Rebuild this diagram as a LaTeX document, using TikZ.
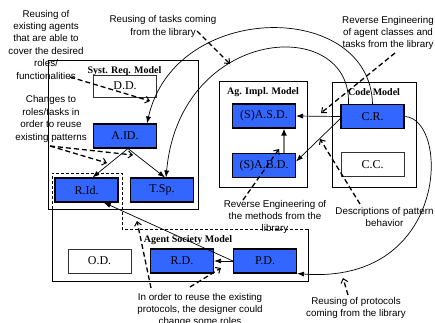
\documentclass[tikz,border=0pt]{standalone}
\usepackage{fontspec}
\setmainfont{Liberation Serif}
\newfontfamily\annfont{Liberation Sans}
\usetikzlibrary{arrows.meta,calc}
\definecolor{boxblue}{RGB}{51,102,255}
\begin{document}
\begin{tikzpicture}[x=1pt,y=-1pt,
  blk/.style={draw=black,line width=1.1pt,fill=boxblue,minimum width=63pt,minimum height=24pt,inner sep=0pt,font=\fontsize{12}{14}\selectfont},
  wbox/.style={draw=black!80,line width=0.9pt,fill=white,minimum width=63pt,minimum height=24pt,inner sep=0pt,font=\fontsize{12}{14}\selectfont},
  cont/.style={draw=black,line width=0.8pt},
  ttl/.style={font=\fontsize{10}{12}\selectfont\bfseries,inner sep=0pt},
  ann/.style={font=\annfont\fontsize{9.8}{12.4}\selectfont,align=center,inner sep=0pt},
  conn/.style={line width=0.7pt,-{Latex[length=7pt,width=5pt]}},
  note/.style={line width=1.3pt,dash pattern=on 5pt off 3pt,-{Straight Barb[length=4pt,width=7pt,line width=1pt]}},
]
\useasboundingbox (0,0) rectangle (435,322);

% containers
\draw[cont] (48,60) rectangle (198,209);
\draw[cont] (219,81) rectangle (307,187);
\draw[cont] (332,82) rectangle (416,187);
\draw[cont] (52,209) -- (52,281) -- (308,281) -- (308,229);
\draw[line width=0.8pt,dash pattern=on 3pt off 2pt] (308,229) -- (122,229) -- (122,173) -- (52,173) -- (52,209);

% titles
\node[ttl] (tSR) at (124.5,71) {Syst. Req. Model};
\node[ttl] (tAI) at (263,92) {Ag. Impl. Model};
\node[ttl] (tCM) at (374,92) {Code Model};
\node[ttl] (tAS) at (188,240) {Agent Society Model};

% boxes
\node[wbox,minimum height=22pt] (DD) at (125,86) {D.D.};
\node[blk] (AID) at (125,136) {A.ID.};
\node[blk] (RId) at (86.5,190) {R.Id.};
\node[blk] (TSp) at (162,190) {T.Sp.};
\node[blk] (SASD) at (264,116) {(S)A.S.D.};
\node[blk] (SABD) at (264,165.5) {(S)A.B.D.};
\node[blk] (CR) at (372.5,116.5) {C.R.};
\node[wbox] (CC) at (372.5,164.5) {C.C.};
\node[wbox] (OD) at (99.5,261) {O.D.};
\node[blk] (RD) at (182,261) {R.D.};
\node[blk] (PD) at (265,261) {P.D.};

% connectors
\draw[conn] (CR.west) -- (SASD.east);
\draw[conn] ($(CR.west)+(0,2)$) -- ($(SABD.east)+(0,-4)$);
\draw[draw=gray,line width=2pt,-{Latex[length=7pt,width=6pt,color=black]}] ($(SABD.north)+(20,0)$) -- ($(SASD.south)+(20,0)$);
\draw[conn] ($(AID.south)+(3,0)$) -- ($(RId.north)+(6,0)$);
\draw[conn] ($(AID.south)+(3,0)$) -- ($(TSp.north)+(3,0)$);
\draw[conn] (PD.west) -- (RD.east);
\draw[conn] (PD.west) -- (RId.-36);
\draw[conn] (CR.north) .. controls (370,0) and (175,0) .. ($(AID.north)+(22,0)$);
\draw[conn] ($(CR.north west)+(8,0)$) .. controls (352,15) and (180,25) .. ($(TSp.north)+(4,0)$);
\draw[conn] (CR.east) .. controls (450,118) and (450,285) .. (PD.south east);

% annotations
\node[ann] (n1) at (46,44.5) {Reusing of\\existing agents\\that are able to\\cover the desired\\roles/\\functionalities};
\node[ann] (n2) at (163,26.5) {Reusing of tasks coming\\from the library};
\node[ann] (n3) at (388,33) {Reverse Engineering\\of agent classes and\\tasks from the library};
\node[ann] (n4) at (51,119) {Changes to\\roles/tasks in\\order to reuse\\existing patterns};
\node[ann] (n5) at (275,217) {Reverse Engineering of\\the methods from the\\library};
\node[ann] (n6) at (384.5,217) {Descriptions of pattern\\behavior};
\node[ann] (n7) at (200,310) {In order to reuse the existing\\protocols, the designer could\\change some roles};
\node[ann] (n8) at (356,308) {Reusing of protocols\\coming from the library};

% annotation arrows
\coordinate (a1s) at (70,77);   \coordinate (a1e) at (150,101);
\coordinate (a2s) at (197,31);  \coordinate (a2e) at (230,64);
\coordinate (a3s) at (395,53);  \coordinate (a3e) at (321,113);
\coordinate (a4s) at (50,146);  \coordinate (a4e) at (107,163);
\coordinate (a4f) at (133,155);
\coordinate (a5s) at (243,200); \coordinate (a5e) at (279,149);
\coordinate (a6s) at (360,204); \coordinate (a6e) at (320,139);
\coordinate (a7s) at (151,288); \coordinate (a7e) at (137,221);
\coordinate (a7t) at (190,287); \coordinate (a7f) at (221,268);
\coordinate (a8s) at (348,295); \coordinate (a8e) at (343,278);
\draw[note] (a1s) -- (a1e);
\draw[note] (a2s) -- (a2e);
\draw[note] (a3s) -- (a3e);
\draw[note] (a4s) -- (a4e);
\draw[note] (a4s) -- (a4f);
\draw[note] (a5s) -- (a5e);
\draw[note] (a6s) -- (a6e);
\draw[note] (a7s) -- (a7e);
\draw[note] (a7t) -- (a7f);
\draw[note] (a8s) -- (a8e);
\end{tikzpicture}
\end{document}
